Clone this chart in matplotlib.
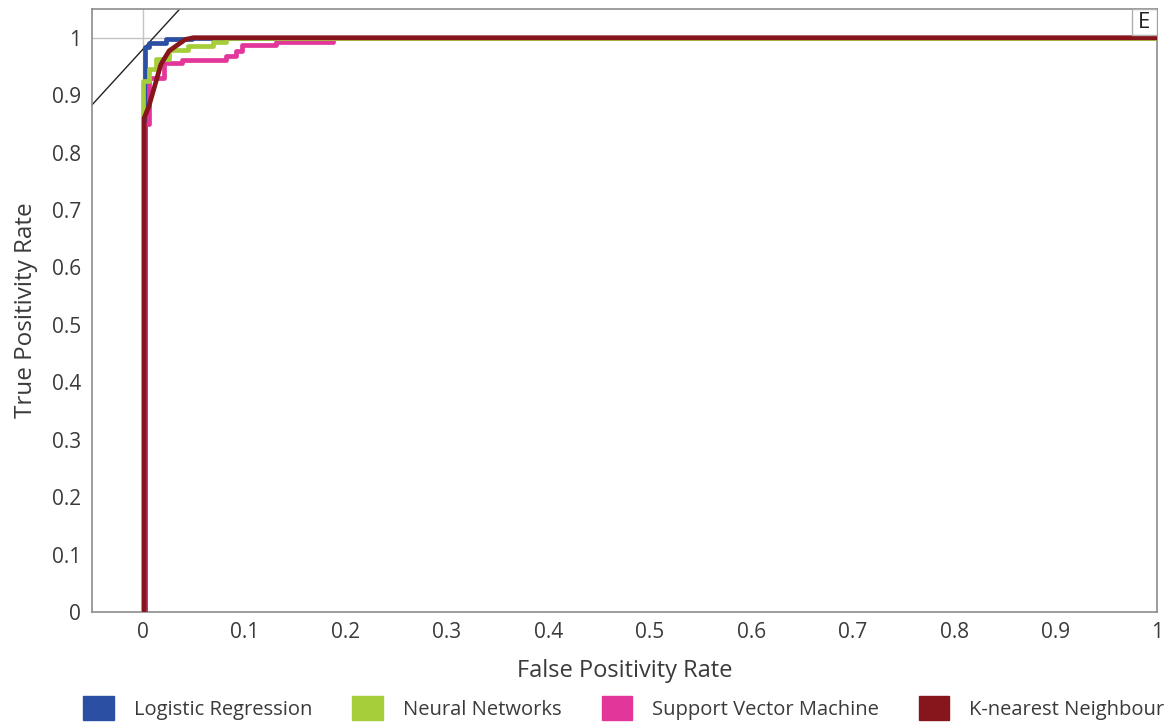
import matplotlib
matplotlib.use("Agg")
import matplotlib.pyplot as plt
from matplotlib.patches import Patch, Rectangle

plt.rcParams['font.family'] = ['Open Sans', 'DejaVu Sans']

# ROC curves (FPR, TPR)
lr_fpr = [0.002, 0.002, 0.006, 0.006, 0.023, 0.023, 0.049, 0.049, 1.0]
lr_tpr = [0.0, 0.983, 0.983, 0.991, 0.991, 0.997, 0.997, 1.0, 1.0]

nn_fpr = [0.0, 0.0, 0.006, 0.006, 0.013, 0.013, 0.026, 0.026, 0.045, 0.045,
          0.069, 0.069, 0.082, 0.082, 1.0]
nn_tpr = [0.0, 0.925, 0.925, 0.945, 0.945, 0.963, 0.963, 0.979, 0.979, 0.986,
          0.986, 0.993, 0.993, 1.0, 1.0]

svm_fpr = [0.0015, 0.0015, 0.006, 0.006, 0.021, 0.021, 0.039, 0.039, 0.082, 0.082,
           0.092, 0.092, 0.098, 0.098, 0.131, 0.131, 0.188, 0.188, 1.0]
svm_tpr = [0.0, 0.85, 0.85, 0.93, 0.93, 0.956, 0.956, 0.962, 0.962, 0.968,
           0.968, 0.977, 0.977, 0.988, 0.988, 0.993, 0.993, 1.0, 1.0]

knn_fpr = [0.0014, 0.0014, 0.006, 0.018, 0.026, 0.042, 0.05, 1.0]
knn_tpr = [0.0, 0.86, 0.88, 0.954, 0.977, 0.997, 1.0, 1.0]

# thin reference line crossing the top-left corner
ref_x = [-0.05, 0.0365]
ref_y = [0.883, 1.05]

labels = ['Logistic Regression', 'Neural Networks', 'Support Vector Machine', 'K-nearest Neighbour']
colors = ['#2b4fa3', '#a6cd3a', '#e2369a', '#86161b']
ticks = [0, 0.1, 0.2, 0.3, 0.4, 0.5, 0.6, 0.7, 0.8, 0.9, 1]

TEXT = '#3a3a3a'
SPINE = '#8c8c8c'

fig = plt.figure(figsize=(11.68, 7.26), dpi=100)
ax = fig.add_axes([92 / 1168, 1 - 612 / 726, 1065 / 1168, 603 / 726])

ax.axvline(0, color='#c4c4c4', lw=1, zorder=1)
ax.axhline(1, color='#c4c4c4', lw=1, zorder=1)
ax.plot(ref_x, ref_y, color='#222222', lw=1, zorder=2)

lw = 3.4
ax.plot(lr_fpr, lr_tpr, color=colors[0], lw=lw, zorder=3)
ax.plot(svm_fpr, svm_tpr, color=colors[2], lw=lw, zorder=4)
ax.plot(nn_fpr, nn_tpr, color=colors[1], lw=lw, zorder=5)
ax.plot(knn_fpr, knn_tpr, color=colors[3], lw=lw, zorder=6)

ax.set_xlim(-0.05, 1.0)
ax.set_ylim(0, 1.05)
ax.set_xticks(ticks)
ax.set_yticks(ticks)
ax.set_xticklabels([f'{t:g}' for t in ticks])
ax.set_yticklabels([f'{t:g}' for t in ticks])
ax.tick_params(axis='both', length=0, labelsize=15, labelcolor=TEXT)
ax.tick_params(axis='x', pad=7)
ax.tick_params(axis='y', pad=8)

for spine in ax.spines.values():
    spine.set_color(SPINE)
    spine.set_linewidth(1.2)

ax.set_xlabel('False Positivity Rate', fontsize=17, color=TEXT, labelpad=12)
ax.set_ylabel('True Positivity Rate', fontsize=17.5, color=TEXT, labelpad=10)

# panel letter box in the top-right corner
ax.add_patch(Rectangle((0.9765, 0.957), 0.0235, 0.043, transform=ax.transAxes,
                       facecolor='white', edgecolor='#b0b0b0', lw=1, zorder=7))
ax.text(0.988, 0.978, 'E', transform=ax.transAxes, ha='center', va='center',
        fontsize=16, color='#222222', zorder=8)

handles = [Patch(facecolor=c, edgecolor=c, label=l) for c, l in zip(colors, labels)]
leg = fig.legend(handles=handles, loc='center', bbox_to_anchor=(624 / 1168, 1 - 708 / 726),
                 ncol=4, frameon=False, fontsize=14.5, handlelength=1.5, handleheight=1.5,
                 handletextpad=1.0, columnspacing=2.0, borderpad=0)
for text in leg.get_texts():
    text.set_color(TEXT)

fig.savefig('out.png', dpi=100)
